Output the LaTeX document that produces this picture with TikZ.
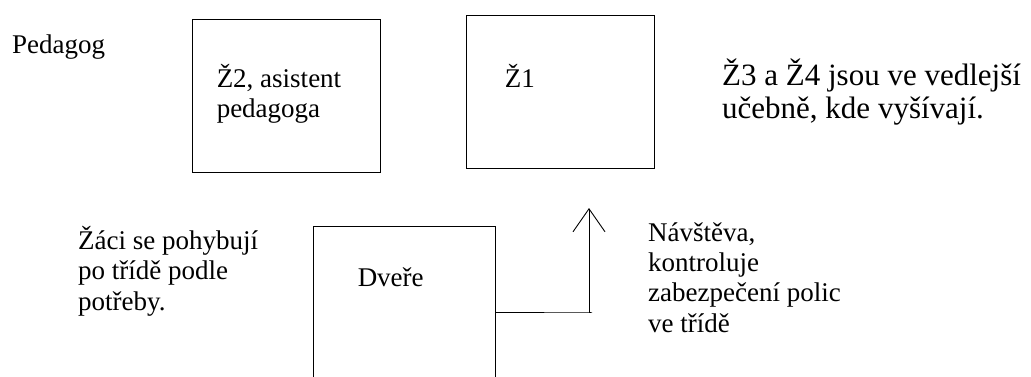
\documentclass[tikz,border=0pt]{standalone}
\usepackage{fontspec}
\setmainfont{Liberation Serif}
\usetikzlibrary{arrows.meta, positioning}
\tikzset{
    room/.style={
        rectangle,
        draw=black,
        line width=0.9pt,
        inner sep=0pt
    },
    txt/.style={
        inner sep=0pt,
        align=left,
        anchor=base west,
        font=\fontsize{27}{30.2}\selectfont
    },
    bigtxt/.style={
        txt,
        font=\fontsize{31}{33}\selectfont
    },
    walk/.style={
        draw=black,
        line width=0.9pt,
        -{Straight Barb[length=23pt,width=32pt,line width=0.9pt]}
    }
}
\begin{document}
\begin{tikzpicture}[x=1pt,y=-1pt]
\useasboundingbox (0,0) rectangle (1031,376);
\clip (0,0) rectangle (1031,376);

% Boxes
\node[room, minimum width=188pt, minimum height=153pt] (z2) at (286,95.5) {};
\node[room, minimum width=188pt, minimum height=153pt] (z1) at (560,91.5) {};
\node[room, minimum width=182pt, minimum height=180pt] (door) at (404,316) {};

% Labels in boxes (base = last line)
\node[txt] (z2text) at ([xshift=25pt,yshift=-99pt]z2.north west) {Ž2, asistent\\pedagoga};
\node[txt] (z1text) at ([xshift=39pt,yshift=-73pt]z1.north west) {Ž1};
\node[txt] (doortext) at ([xshift=45pt,yshift=-61pt]door.north west) {Dveře};

% Free texts
\node[txt] (teacher) at (12,53) {Pedagog};
\node[bigtxt] (away) at (722,118) {Ž3 a Ž4 jsou ve vedlejší\\učebně, kde vyšívají.};
\node[txt] (pupils) at (78,310) {Žáci se pohybují\\po třídě podle\\potřeby.};
\node[txt] (visit) at (648,332) {Návštěva,\\kontroluje\\zabezpečení polic\\ve třídě};

% Visitor path
\coordinate (turn) at (589,312);
\coordinate (tip) at (589,208);
\draw[walk] (door.east |- turn) -- ([xshift=3pt]turn) -- (turn) -- (tip);

\end{tikzpicture}
\end{document}
